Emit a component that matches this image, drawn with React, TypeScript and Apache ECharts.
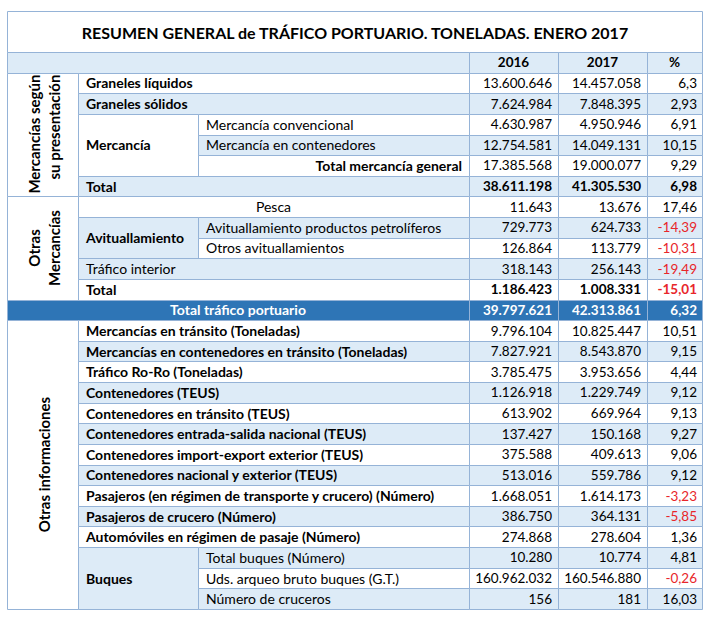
import React, { useEffect, useRef } from "react";
import * as echarts from "echarts";

const TITLE = "RESUMEN GENERAL de TRÁFICO PORTUARIO. TONELADAS. ENERO 2017";
const columnHeaders = ["2016", "2017", "%"];

const categories = [
  "Graneles líquidos",
  "Graneles sólidos",
  "Mercancía convencional",
  "Mercancía en contenedores",
  "Total mercancía general",
  "Total",
  "Pesca",
  "Avituallamiento productos petrolíferos",
  "Otros avituallamientos",
  "Tráfico interior",
  "Total",
  "Total tráfico portuario",
  "Mercancías en tránsito (Toneladas)",
  "Mercancías en contenedores en tránsito (Toneladas)",
  "Tráfico Ro-Ro (Toneladas)",
  "Contenedores (TEUS)",
  "Contenedores en tránsito (TEUS)",
  "Contenedores entrada-salida nacional (TEUS)",
  "Contenedores import-export exterior (TEUS)",
  "Contenedores nacional y exterior (TEUS)",
  "Pasajeros (en régimen de transporte y crucero) (Número)",
  "Pasajeros de crucero (Número)",
  "Automóviles en régimen de pasaje (Número)",
  "Total buques (Número)",
  "Uds. arqueo bruto buques (G.T.)",
  "Número de cruceros",
];

const values2016 = [
  13600646, 7624984, 4630987, 12754581, 17385568, 38611198, 11643, 729773, 126864, 318143, 1186423,
  39797621, 9796104, 7827921, 3785475, 1126918, 613902, 137427, 375588, 513016, 1668051, 386750,
  274868, 10280, 160962032, 156,
];

const values2017 = [
  14457058, 7848395, 4950946, 14049131, 19000077, 41305530, 13676, 624733, 113779, 256143, 1008331,
  42313861, 10825447, 8543870, 3953656, 1229749, 669964, 150168, 409613, 559786, 1614173, 364131,
  278604, 10774, 160546880, 181,
];

const pctChange = [
  6.3, 2.93, 6.91, 10.15, 9.29, 6.98, 17.46, -14.39, -10.31, -19.49, -15.01, 6.32, 10.51, 9.15, 4.44,
  9.12, 9.13, 9.27, 9.06, 9.12, -3.23, -5.85, 1.36, 4.81, -0.26, 16.03,
];

const sectionGroups = [
  { label: "Mercancías según\nsu presentación", from: 0, to: 5 },
  { label: "Otras\nMercancías", from: 6, to: 10 },
  { label: "Otras informaciones", from: 12, to: 25 },
];

const subGroups = [
  { label: "Mercancía", from: 2, to: 4, shaded: false },
  { label: "Avituallamiento", from: 7, to: 8, shaded: true },
  { label: "Buques", from: 23, to: 25, shaded: true },
];

const boldLabelRows = [0, 1, 4, 5, 10, 11, 12, 13, 14, 15, 16, 17, 18, 19, 20, 21, 22];
const boldNumberRows = [5, 10, 11];
const rightLabelRows = [4];
const centerLabelRows = [6];
const grandTotalRow = 11;

// styles
const FONT = "Lato";
const FS_LABEL = 14;
const FS_NUM = 13.5;
const FS_ROT = 15;
const BORDER = "#95B3D7";
const LIGHT = "#DDEBF7";
const DARK = "#2E75B6";
const TEXT = "#000000";
const RED = "#E8262A";
const COLS = [0, 71, 191, 462, 551, 640, 695];
const TOP_ANCHORED_SECTIONS = [0];

const fmtInt = (v: number) => String(v).replace(/\B(?=(\d{3})+(?!\d))/g, ".");
const fmtPct = (v: number) => String(v).replace(".", ",");

const gridRows = ["header", ...categories];

function renderItem(params: any, api: any) {
  const r = api.value(1);
  const h = api.size([0, 1])[1];
  const cy = api.coord([0, r])[1];
  const top = cy - h / 2;
  const X = (u: number) => api.coord([u, r])[0];
  const children: any[] = [];
  const rect = (a: number, b: number, y: number, hh: number, fill: string) =>
    children.push({
      type: "rect",
      shape: { x: Math.round(X(a)) + 0.5, y: Math.round(y) + 0.5, width: Math.round(X(b)) - Math.round(X(a)), height: Math.round(y + hh) - Math.round(y) },
      style: { fill, stroke: BORDER, lineWidth: 1 },
    });
  const txt = (x: number, y: number, s: string, o: any) =>
    children.push({
      type: "text",
      x,
      y,
      rotation: o.rot || 0,
      style: {
        text: s,
        fill: o.color || TEXT,
        fontFamily: FONT,
        fontSize: o.size || FS_LABEL,
        fontWeight: o.bold ? "bold" : "normal",
        align: o.align || "left",
        textAlign: o.align || "left",
        verticalAlign: "middle",
        textVerticalAlign: "middle",
        lineHeight: o.lh || 16,
      },
    });

  if (r === 0) {
    rect(COLS[0], COLS[3], top, h, LIGHT);
    for (let c = 0; c < 3; c++) {
      rect(COLS[3 + c], COLS[4 + c], top, h, LIGHT);
      txt((X(COLS[3 + c]) + X(COLS[4 + c])) / 2, cy, columnHeaders[c], { bold: true, align: "center", size: FS_NUM });
    }
    return { type: "group", children };
  }

  const i = r - 1;
  const si = sectionGroups.findIndex((g) => g.from === i);
  if (si >= 0) {
    const sec = sectionGroups[si];
    const n = sec.to - sec.from + 1;
    rect(COLS[0], COLS[1], top, h * n, "#ffffff");
    const topAnchored = TOP_ANCHORED_SECTIONS.includes(si);
    txt((X(COLS[0]) + X(COLS[1])) / 2 + 1, topAnchored ? top + 2 : top + (h * n) / 2, sec.label, {
      bold: true,
      rot: Math.PI / 2,
      align: topAnchored ? "right" : "center",
      lh: 20,
      size: FS_ROT,
    });
  }
  const sub = subGroups.find((g) => i >= g.from && i <= g.to);
  if (sub && sub.from === i) {
    const n = sub.to - sub.from + 1;
    rect(COLS[1], COLS[2], top, h * n, sub.shaded ? LIGHT : "#ffffff");
    txt(X(COLS[1]) + 8, top + (h * n) / 2, sub.label, { bold: true });
  }
  const isGrand = i === grandTotalRow;
  const start = isGrand ? COLS[0] : sub ? COLS[2] : COLS[1];
  const fill = isGrand ? DARK : i % 2 === 1 ? LIGHT : "#ffffff";
  const color = isGrand ? "#ffffff" : TEXT;
  rect(start, COLS[3], top, h, fill);
  for (let c = 0; c < 3; c++) rect(COLS[3 + c], COLS[4 + c], top, h, fill);

  const lb = boldLabelRows.includes(i);
  if (isGrand || centerLabelRows.includes(i)) {
    txt((X(start) + X(COLS[3])) / 2, cy, categories[i], { bold: lb, color, align: "center" });
  } else if (rightLabelRows.includes(i)) {
    txt(X(COLS[3]) - 7, cy, categories[i], { bold: lb, color, align: "right" });
  } else {
    txt(X(start) + 8, cy, categories[i], { bold: lb, color });
  }
  const nb = boldNumberRows.includes(i);
  txt(X(COLS[4]) - 6, cy, fmtInt(values2016[i]), { bold: nb, color, align: "right", size: FS_NUM });
  txt(X(COLS[5]) - 6, cy, fmtInt(values2017[i]), { bold: nb, color, align: "right", size: FS_NUM });
  txt(X(COLS[6]) - 5, cy, fmtPct(pctChange[i]), {
    bold: nb,
    color: isGrand ? "#ffffff" : pctChange[i] < 0 ? RED : TEXT,
    align: "right",
    size: FS_NUM,
  });
  return { type: "group", children };
}

export default function App() {
  const ref = useRef<HTMLDivElement>(null);
  useEffect(() => {
    const chart = echarts.init(ref.current as HTMLDivElement, null, { renderer: "svg" });
    chart.setOption({
      animation: false,
      backgroundColor: "#ffffff",
      grid: { left: 7, top: 52, width: 695, height: 557 },
      xAxis: { type: "value", min: 0, max: 695, show: false },
      yAxis: { type: "category", data: gridRows, inverse: true, show: false },
      graphic: [
        {
          type: "rect",
          shape: { x: 7.5, y: 11.5, width: 695, height: 41 },
          style: { fill: "#ffffff", stroke: BORDER, lineWidth: 1 },
        },
        {
          type: "text",
          x: 355,
          y: 32,
          style: {
            text: TITLE,
            fill: TEXT,
            fontFamily: FONT,
            fontSize: 16,
            fontWeight: "bold",
            align: "center",
            textAlign: "center",
            verticalAlign: "middle",
            textVerticalAlign: "middle",
          },
        },
      ],
      series: [
        {
          type: "custom",
          renderItem,
          clip: false,
          silent: true,
          encode: { x: 0, y: 1 },
          data: gridRows.map((_, r) => [0, r]),
        },
      ],
    });
    return () => chart.dispose();
  }, []);
  return <div ref={ref} style={{ position: "absolute", left: 0, top: 0, width: 715, height: 623 }} />;
}
